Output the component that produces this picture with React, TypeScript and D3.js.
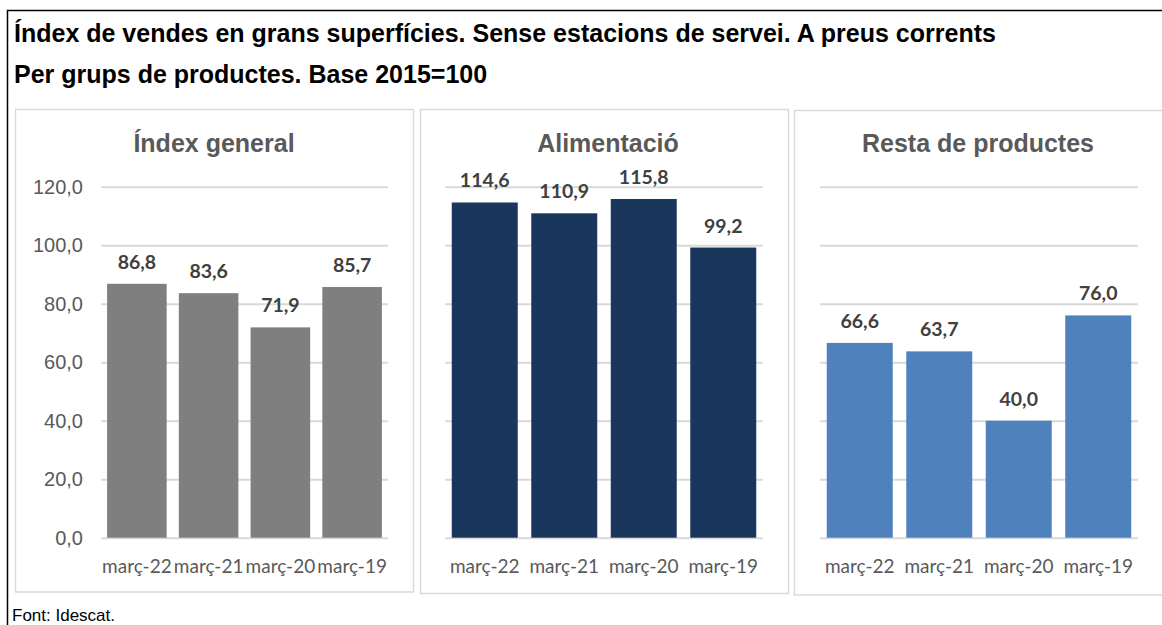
import React, { useEffect, useRef } from 'react';
import * as d3 from 'd3';

// Data
const periods = ['març-22', 'març-21', 'març-20', 'març-19'];
const indexGeneral = [86.8, 83.6, 71.9, 85.7];
const alimentacio = [114.6, 110.9, 115.8, 99.2];
const restaProductes = [66.6, 63.7, 40.0, 76.0];
const panelTitles = ['Índex general', 'Alimentació', 'Resta de productes'];
const yTicks = [0, 20, 40, 60, 80, 100, 120];
const titleLines = [
  'Índex de vendes en grans superfícies. Sense estacions de servei. A preus corrents',
  'Per grups de productes. Base 2015=100',
];
const sourceNote = 'Font: Idescat.';

const W = 1162;
const H = 625;

const App = () => {
  const svgRef = useRef(null);

  useEffect(() => {
    const svg = d3.select(svgRef.current);
    svg.selectAll('*').remove();

    const fmt = (v) => d3.format('.1f')(v).replace('.', ',');

    // outer frame (top + left edges visible)
    svg.append('path')
      .attr('d', `M7.5,${H + 5}V10.5H${W + 5}`)
      .attr('fill', 'none')
      .attr('stroke', '#000')
      .attr('stroke-width', 1.5);

    // main title
    svg.selectAll('text.main-title')
      .data(titleLines)
      .enter().append('text')
      .attr('class', 'main-title')
      .attr('x', 14)
      .attr('y', (d, i) => 41.5 + i * 41.5)
      .attr('font-family', '"Liberation Sans", Arial, sans-serif')
      .attr('font-weight', 'bold')
      .attr('font-size', 25)
      .attr('fill', '#000')
      .text(d => d);

    // source
    svg.append('text')
      .attr('x', 12)
      .attr('y', 621)
      .attr('font-family', '"Liberation Sans Narrow", "Liberation Sans", Arial, sans-serif')
      .attr('font-size', 17)
      .attr('fill', '#000')
      .text(sourceNote);

    const y = d3.scaleLinear().domain([0, 120]).range([537.7, 186.7]);

    const panels = [
      { values: indexGeneral, x0: 15, x1: 413, y1: 592, plotL: 101, plotR: 388, titleX: 214, color: '#7f7f7f', showY: true },
      { values: alimentacio, x0: 420, x1: 788, y1: 593.5, plotL: 445, plotR: 763, titleX: 608, color: '#1b365d', showY: false },
      { values: restaProductes, x0: 794, x1: 1168, y1: 594, plotL: 820, plotR: 1138, titleX: 978, color: '#4f81bd', showY: false },
    ];

    panels.forEach((p, pi) => {
      const g = svg.append('g');

      // panel box
      g.append('rect')
        .attr('x', p.x0 + 0.5)
        .attr('y', pi === 2 ? 110.5 : 109.5)
        .attr('width', p.x1 - p.x0)
        .attr('height', p.y1 - 109.5)
        .attr('fill', '#fff')
        .attr('stroke', '#d9d9d9')
        .attr('stroke-width', 1.5);

      // panel title
      g.append('text')
        .attr('x', p.titleX)
        .attr('y', 152)
        .attr('text-anchor', 'middle')
        .attr('font-family', '"Liberation Sans", Arial, sans-serif')
        .attr('font-weight', 'bold')
        .attr('font-size', 25)
        .attr('fill', '#595959')
        .text(panelTitles[pi]);

      const x = d3.scaleBand()
        .domain(periods)
        .range([p.plotL, p.plotR])
        .paddingInner(0.17)
        .paddingOuter(0.085);

      // gridlines
      const grid = g.append('g')
        .attr('transform', `translate(${p.plotL},0)`)
        .call(d3.axisLeft(y).tickValues(yTicks).tickSize(-(p.plotR - p.plotL)).tickFormat(() => ''));
      grid.select('.domain').remove();
      grid.selectAll('.tick line')
        .attr('stroke', '#d9d9d9')
        .attr('stroke-width', 2);

      // y tick labels (first panel only)
      if (p.showY) {
        const yAxis = g.append('g')
          .attr('transform', 'translate(83,0)')
          .call(d3.axisLeft(y).tickValues(yTicks).tickSize(0).tickPadding(0).tickFormat(fmt));
        yAxis.select('.domain').remove();
        yAxis.selectAll('.tick text')
          .attr('font-family', '"Liberation Sans", Arial, sans-serif')
          .attr('font-size', 20)
          .attr('fill', '#595959');
      }

      // bars
      g.selectAll('rect.bar')
        .data(p.values)
        .enter().append('rect')
        .attr('class', 'bar')
        .attr('x', (d, i) => x(periods[i]))
        .attr('y', d => y(d))
        .attr('width', x.bandwidth())
        .attr('height', d => y(0) - y(d))
        .attr('fill', p.color);

      // value labels
      g.selectAll('text.val')
        .data(p.values)
        .enter().append('text')
        .attr('class', 'val')
        .attr('x', (d, i) => x(periods[i]) + x.bandwidth() / 2)
        .attr('y', d => y(d) - 15)
        .attr('text-anchor', 'middle')
        .attr('font-family', 'Lato, "Open Sans", sans-serif')
        .attr('font-weight', 'bold')
        .attr('font-size', 19.5)
        .attr('fill', '#404040')
        .text(d => fmt(d));

      // x axis labels
      const xAxis = g.append('g')
        .attr('transform', 'translate(0,573)')
        .call(d3.axisBottom(x).tickSize(0).tickPadding(0));
      xAxis.select('.domain').remove();
      xAxis.selectAll('.tick text')
        .attr('dy', 0)
        .attr('font-family', 'Lato, "Open Sans", sans-serif')
        .attr('font-size', 19)
        .attr('fill', '#595959');
    });
  }, []);

  return (
    <svg
      ref={svgRef}
      width={W}
      height={H}
      style={{ position: 'fixed', left: 0, top: 0, background: '#fff' }}
    />
  );
};

export default App;
